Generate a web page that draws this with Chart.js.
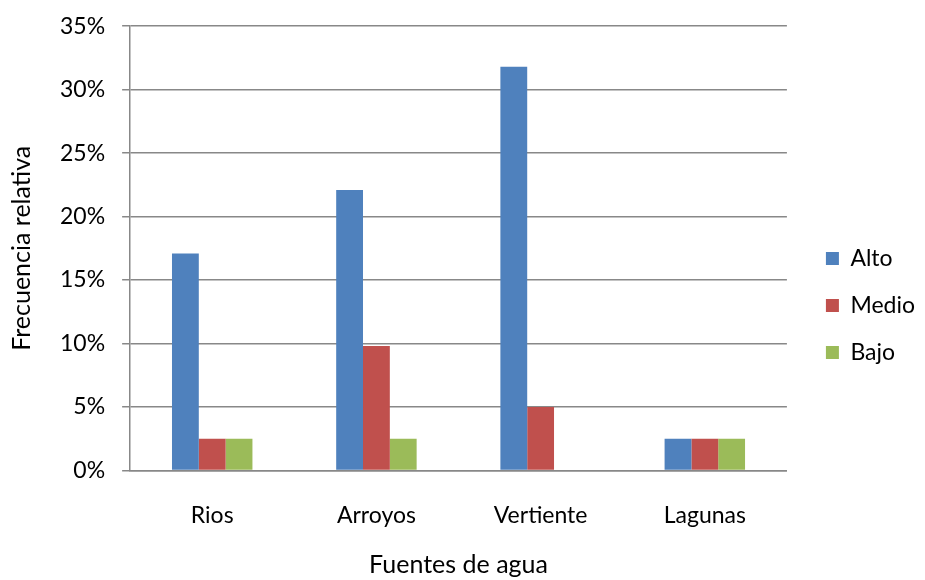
<!DOCTYPE html>
<html><head><meta charset="utf-8">
<script src="https://cdn.jsdelivr.net/npm/chart.js@4/dist/chart.umd.min.js"></script>
<style>html,body{margin:0;padding:0;background:#fff}#wrap{width:925px;height:580px}</style>
</head><body><div id="wrap"><canvas id="c" width="925" height="580"></canvas></div>
<script>
const categories = ["Rios", "Arroyos", "Vertiente", "Lagunas"];
const alto = [17.1, 22.1, 31.8, 2.5];
const medio = [2.5, 9.8, 5.0, 2.5];
const bajo = [2.5, 2.5, 0, 2.5];
const seriesNames = ["Alto", "Medio", "Bajo"];
const FONT = "Lato, 'Open Sans', sans-serif";
Chart.defaults.font.family = FONT;
Chart.defaults.color = "#000";
const legendShift = {
  id: 'legendShift',
  afterLayout(chart) {
    const lg = chart.legend;
    if (!lg) return;
    lg.left += 15; lg.right += 15;
    lg.top += 12; lg.bottom += 12;
  }
};
new Chart(document.getElementById('c'), {
  type: 'bar',
  data: {
    labels: categories,
    datasets: [
      {label: seriesNames[0], data: alto, backgroundColor: '#4F81BD'},
      {label: seriesNames[1], data: medio, backgroundColor: '#C0504D'},
      {label: seriesNames[2], data: bajo, backgroundColor: '#9BBB59'}
    ]
  },
  plugins: [legendShift],
  options: {
    responsive: false,
    animation: false,
    devicePixelRatio: 1,
    layout: {padding: {left: 7, top: 7, right: 15, bottom: 0}},
    datasets: {bar: {barPercentage: 1, categoryPercentage: 0.49}},
    plugins: {
      legend: {
        position: 'right',
        align: 'center',
        labels: {boxWidth: 13, boxHeight: 13, padding: 24, font: {size: 23}, color: '#000'}
      },
      tooltip: {enabled: false}
    },
    scales: {
      x: {
        grid: {display: false, drawTicks: false},
        border: {display: true, color: '#888', width: 1.5},
        ticks: {font: {size: 23}, color: '#000', padding: 31},
        title: {display: true, text: 'Fuentes de agua', font: {size: 25}, color: '#000', padding: {top: -10, bottom: 0}}
      },
      y: {
        min: 0, max: 35,
        grid: {color: '#888', lineWidth: 1.5, tickLength: 8},
        border: {display: true, color: '#888', width: 1.5},
        ticks: {stepSize: 5, font: {size: 23, lineHeight: 0.8}, color: '#000', padding: 17, callback: v => v + '%'},
        title: {display: true, text: 'Frecuencia relativa', font: {size: 25}, color: '#000', padding: {top: 0, bottom: 6}}
      }
    }
  }
});
</script></body></html>
